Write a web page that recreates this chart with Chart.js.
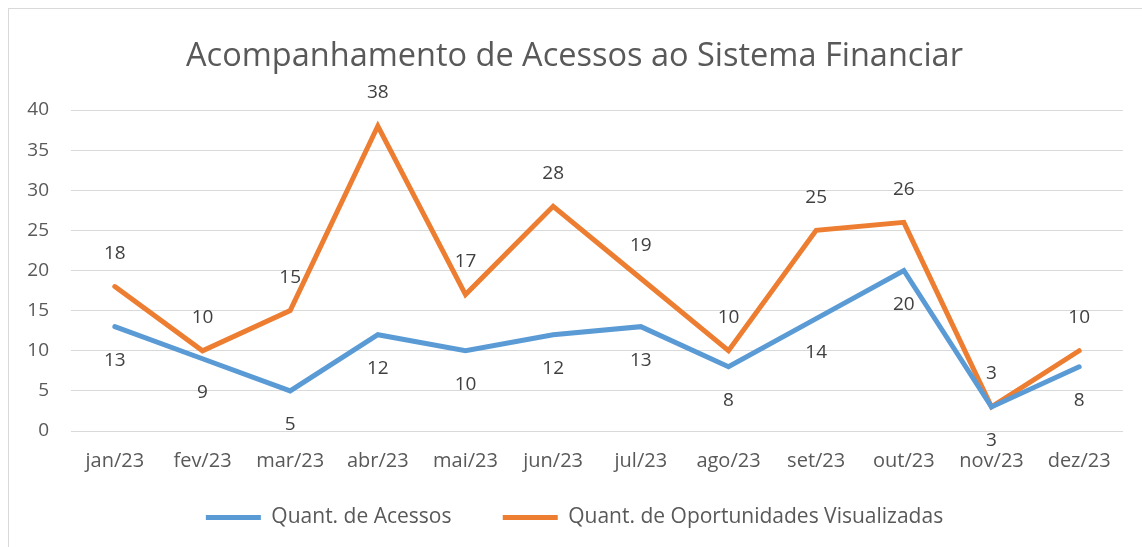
<!DOCTYPE html>
<html>
<head>
<meta charset="utf-8">
<script src="https://cdn.jsdelivr.net/npm/chart.js@4.4.1/dist/chart.umd.min.js"></script>
<style>
  html, body { margin: 0; padding: 0; background: #fff; }
  #frame { position: absolute; left: 8px; top: 8px; width: 1160px; height: 560px; border: 1px solid #d9d9d9; }
  #wrap { position: absolute; left: 0; top: 0; width: 1142px; height: 547px; }
</style>
</head>
<body>
<div id="frame"></div>
<div id="wrap"><canvas id="chart"></canvas></div>
<script>
const months = ["jan/23", "fev/23", "mar/23", "abr/23", "mai/23", "jun/23", "jul/23", "ago/23", "set/23", "out/23", "nov/23", "dez/23"];
const acessos = [13, 9, 5, 12, 10, 12, 13, 8, 14, 20, 3, 8];
const oportunidades = [18, 10, 15, 38, 17, 28, 19, 10, 25, 26, 3, 10];

const FONT = "'Open Sans', 'Noto Sans', sans-serif";
const TEXT = "#595959";

// rotulos de dados: laranja acima, azul abaixo
const pointLabels = {
  id: "pointLabels",
  afterDatasetsDraw(chart) {
    const c = chart.ctx;
    c.save();
    c.font = "19px " + FONT;
    c.fillStyle = "#404040";
    c.textAlign = "center";
    c.textBaseline = "middle";
    chart.data.datasets.forEach((ds, i) => {
      const meta = chart.getDatasetMeta(i);
      meta.data.forEach((pt, j) => {
        const dy = ds.labelPos === "above" ? -33 : 34;
        c.fillText(String(ds.data[j]), pt.x, pt.y + dy);
      });
    });
    c.restore();
  }
};

new Chart(document.getElementById("chart"), {
  type: "line",
  data: {
    labels: months,
    datasets: [
      {
        label: "Quant. de Acessos",
        data: acessos,
        borderColor: "#5B9BD5",
        backgroundColor: "#5B9BD5",
        borderWidth: 5,
        labelPos: "below",
      },
      {
        label: "Quant. de Oportunidades Visualizadas",
        data: oportunidades,
        borderColor: "#ED7D31",
        backgroundColor: "#ED7D31",
        borderWidth: 5,
        labelPos: "above",
      },
    ]
  },
  options: {
    animation: false,
    responsive: true,
    maintainAspectRatio: false,
    devicePixelRatio: 1,
    elements: {
      point: { radius: 0, hoverRadius: 0 },
      line: { tension: 0, borderCapStyle: "round", borderJoinStyle: "miter" },
    },
    layout: { padding: { left: 26, right: 19, top: 18, bottom: 9 } },
    plugins: {
      title: {
        display: true,
        text: "Acompanhamento de Acessos ao Sistema Financiar",
        color: TEXT,
        font: { family: FONT, size: 32.5, weight: "normal" },
        padding: { top: 19, bottom: 34 },
      },
      legend: {
        position: "bottom",
        labels: {
          color: TEXT,
          font: { family: FONT, size: 21 },
          boxWidth: 55,
          boxHeight: 5,
          padding: 24,
          generateLabels(chart) {
            return chart.data.datasets.map((ds, i) => ({
              // espaco extra entre os itens da legenda
              text: i === 0 ? ds.label + "\u00a0\u00a0\u00a0\u00a0\u00a0" : ds.label,
              fillStyle: ds.borderColor,
              strokeStyle: ds.borderColor,
              lineWidth: 0,
              fontColor: TEXT,
              datasetIndex: i,
            }));
          },
        },
      },
      tooltip: { enabled: false },
    },
    scales: {
      x: {
        offset: true,
        grid: { display: false },
        border: { display: false },
        ticks: { color: TEXT, font: { family: FONT, size: 20 }, padding: 10, maxRotation: 0 },
      },
      y: {
        min: 0,
        max: 40,
        ticks: { stepSize: 5, color: TEXT, font: { family: FONT, size: 19 }, padding: 22 },
        grid: { color: "#d9d9d9", lineWidth: 1, drawTicks: false },
        border: { display: false },
        afterFit(scale) { scale.width = 45; },
      },
    },
  },
  plugins: [pointLabels],
});
</script>
</body>
</html>
